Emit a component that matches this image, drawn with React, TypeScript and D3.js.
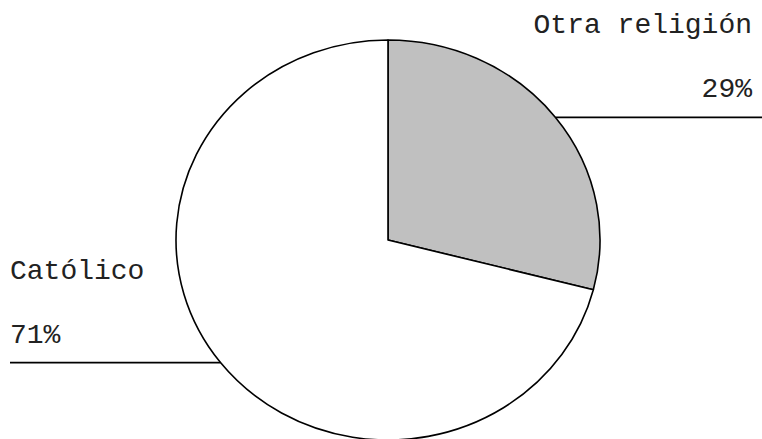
import React from "react";
import * as d3 from "d3";

const categories = ["Otra religión", "Católico"];
const values = [29, 71];
const fills = ["#c0c0c0", "#ffffff"];

const WIDTH = 762;
const HEIGHT = 439;
const CX = 388;
const CY = 240;
const RX = 212;
const RY = 200;

const App = () => {
  const pie = d3
    .pie<number>()
    .sort(null)
    .value((d) => d);
  const arcs = pie(values);

  const arc = d3
    .arc<d3.PieArcDatum<number>>()
    .innerRadius(0)
    .outerRadius(RY);

  const fontFamily = "'Courier New', 'Liberation Mono', monospace";

  return (
    <svg
      width={WIDTH}
      height={HEIGHT}
      style={{ position: "absolute", left: 0, top: 0, background: "#fff" }}
    >
      <g transform={`translate(${CX},${CY}) scale(${RX / RY},1)`}>
        {arcs.map((a, i) => (
          <path
            key={categories[i]}
            d={arc(a) || ""}
            fill={fills[i]}
            stroke="#000"
            strokeWidth={1.6}
            vectorEffect="non-scaling-stroke"
            strokeLinejoin="round"
          />
        ))}
      </g>
      {arcs.map((a, i) => {
        // mid angle, d3 convention: 0 at 12 o'clock, clockwise
        const mid = (a.startAngle + a.endAngle) / 2;
        const px = CX + RX * Math.sin(mid);
        const py = CY - RY * Math.cos(mid);
        const right = px > CX;
        const x2 = right ? WIDTH : 10;
        const tx = right ? WIDTH - 10 : 10;
        const anchor = right ? "end" : "start";
        return (
          <g key={`label-${categories[i]}`}>
            <line x1={px} y1={py} x2={x2} y2={py} stroke="#000" strokeWidth={1.6} />
            <text
              x={tx}
              y={py - 84}
              textAnchor={anchor}
              fontFamily={fontFamily}
              fontSize={28}
              fill="#222"
            >
              {categories[i]}
            </text>
            <text
              x={tx}
              y={py - 20}
              textAnchor={anchor}
              fontFamily={fontFamily}
              fontSize={28}
              fill="#222"
            >
              {`${values[i]}%`}
            </text>
          </g>
        );
      })}
    </svg>
  );
};

export default App;
